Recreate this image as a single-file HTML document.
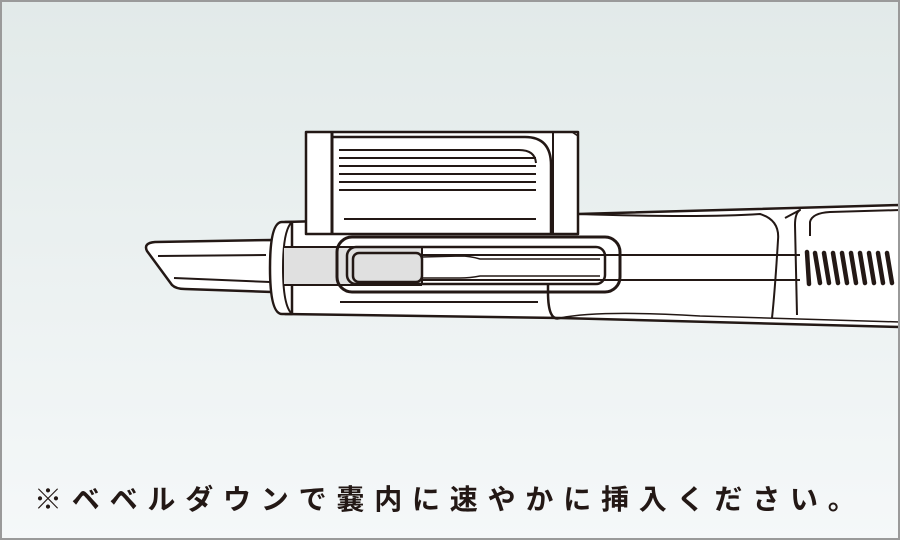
<!DOCTYPE html>
<html><head><meta charset="utf-8"><style>
html,body{margin:0;padding:0}
body{width:900px;height:540px;overflow:hidden;position:relative;background:linear-gradient(#e2eae9,#f5f8f9);}
.fr{position:absolute;left:0;top:0;width:896px;height:536px;border:2px solid #9a9a9a;border-right-width:3px;box-sizing:content-box}
.t{position:absolute;left:34px;top:478px;font-family:"Liberation Sans","Noto Sans CJK JP",sans-serif;font-weight:bold;font-size:28px;letter-spacing:9.8px;color:#231815;white-space:nowrap}
svg{position:absolute;left:0;top:0}
</style></head><body>
<svg width="900" height="540" viewBox="0 0 900 540" fill="none" stroke="#231815" stroke-width="2.5" stroke-linejoin="round">
<!-- body -->
<path d="M285 222 L578 214 L900 205 L900 327 L560 318 L285 314 Z" fill="#fff"/>
<path d="M560 318 Q548 322 548 292 L548 285" />
<path d="M578 214 Q700 218 760 214 Q780 220 778 240 Q775 290 772 318" stroke-width="2"/>
<path d="M785 218 L800 210 Q795 213 795 225 L797 315" stroke-width="2"/>
<path d="M810 236 L810 222 Q812 213 830 212 L900 210" stroke-width="2"/>
<path d="M560 318 Q600 310 700 316 L900 322" stroke-width="1.5"/>
<!-- nib -->
<path d="M272 240 L155 242 Q143 243 147 251 L172 285 Q176 289 185 289 L272 292 Z" fill="#fff"/>
<line x1="158" y1="256" x2="266" y2="255" stroke-width="2"/>
<line x1="174" y1="278" x2="270" y2="282" stroke-width="2"/>
<!-- ring -->
<path d="M282 222 Q270 222 270 268 Q270 314 282 314 L292 314 L292 222 Z" fill="#fff"/>
<path d="M292 222 Q283 230 283 268 Q283 306 292 314" stroke-width="2"/>
<!-- clip fills -->
<rect x="347" y="247" width="258" height="37" rx="9" fill="#fff" stroke="none"/>
<!-- gray section -->
<rect x="284" y="247" width="138" height="38" fill="#e0e0e0" stroke="none"/>
<line x1="284" y1="247" x2="422" y2="247" stroke-width="2"/>
<line x1="284" y1="285" x2="422" y2="285" stroke-width="2"/>
<!-- center lines -->
<line x1="420" y1="255" x2="800" y2="255" stroke-width="2"/>
<line x1="420" y1="280" x2="800" y2="280" stroke-width="2"/>
<!-- clip -->
<rect x="337" y="237" width="283" height="55" rx="15" fill="none" stroke-width="3"/>
<rect x="347" y="247" width="258" height="37" rx="9" fill="none" stroke-width="2.5"/>
<rect x="353" y="253" width="69" height="29" rx="6" fill="#e0e0e0" stroke-width="2.5"/>
<path d="M422 257 L460 256 Q470 256 480 259 L600 259 M422 278 L460 278 Q470 278 480 276 L600 276" stroke-width="1.5"/>
<line x1="422" y1="247" x2="422" y2="285" stroke-width="2"/>
<line x1="340" y1="302" x2="538" y2="302" stroke-width="2"/>
<!-- cap -->
<rect x="306" y="132" width="272" height="102" fill="#fff" stroke-width="2.5"/>
<line x1="332" y1="132" x2="332" y2="234" stroke-width="3"/>
<path d="M551 234 L551 165 Q551 137 525 137 L332 137" stroke-width="2.5"/>
<path d="M553 132 L553 234" stroke-width="2"/>
<path d="M572 132 L578 136 L578 234" stroke-width="1.5"/>
<g stroke-width="2">
<path d="M339 150 L519 150 Q535 150 536 163"/>
<line x1="339" y1="158" x2="536" y2="158"/>
<line x1="339" y1="166" x2="536" y2="166"/>
<line x1="339" y1="174" x2="536" y2="174"/>
<line x1="339" y1="182" x2="536" y2="182"/>
<line x1="339" y1="190" x2="536" y2="190"/>
<line x1="344" y1="219" x2="536" y2="219"/>
</g>
<!-- threads -->
<g stroke-width="4.5" stroke-linecap="round">
<line x1="807" y1="252" x2="809" y2="284"/>
<line x1="815" y1="253" x2="820" y2="283"/>
<line x1="824" y1="253" x2="829" y2="283"/>
<line x1="833" y1="253" x2="838" y2="283"/>
<line x1="842" y1="253" x2="847" y2="283"/>
<line x1="851" y1="253" x2="856" y2="283"/>
<line x1="860" y1="253" x2="865" y2="283"/>
<line x1="869" y1="253" x2="874" y2="283"/>
<line x1="878" y1="253" x2="883" y2="283"/>
<line x1="887" y1="253" x2="892" y2="283"/>
</g>
</svg>
<div class="fr"></div>
<div class="t">※ベベルダウンで嚢内に速やかに挿入ください。</div>
</body></html>
